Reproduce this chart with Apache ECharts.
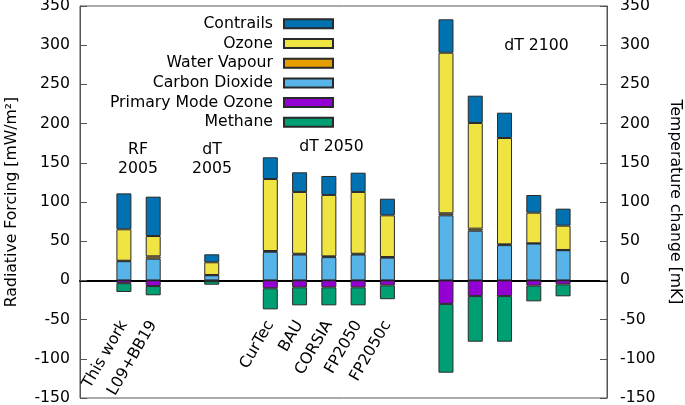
<!DOCTYPE html>
<html>
<head>
<meta charset="utf-8">
<script src="https://cdn.jsdelivr.net/npm/echarts@6/dist/echarts.min.js"></script>
<style>
html,body{margin:0;padding:0;background:#fff;}
#c{width:685px;height:405px;}
</style>
</head>
<body>
<div id="c"></div>
<script>
// Category slots (gaps are empty slots)
const categories = ['pad0','This work','L09+BB19','pad1','dT2005','pad2','CurTec','BAU','CORSIA','FP2050','FP2050c','pad3','dT2100a','dT2100b','dT2100c','dT2100d','dT2100e','pad4'];
const tickLabels = ['','This work','L09+BB19','','','','CurTec','BAU','CORSIA','FP2050','FP2050c','','','','','','',''];
const yTicks = { min: -150, max: 350, interval: 50 };

// Component values [mW/m2 or mK]
const carbonDioxide = [null, 24.5, 27.7, null, 6.5, null, 36.5, 33, 29.7, 33, 29, null, 83, 63.4, 45, 47, 38.5, null];
const waterVapour   = [null, 0.6, 3, null, 0.4, null, 1, 1, 1, 1, 0.8, null, 2.6, 2.6, 1, 0.3, 0.3, null];
const ozone         = [null, 40.1, 25.9, null, 16.2, null, 91.8, 78.8, 78.3, 78.8, 53.2, null, 204.8, 134.8, 135.6, 39.1, 31, null];
const contrails     = [null, 45.8, 50.2, null, 10.2, null, 27.7, 25.1, 24.2, 24.6, 21.2, null, 42.6, 34.8, 32.3, 22.5, 21.7, null];
const primaryModeOzone = [null, -3.5, -7.2, null, -1, null, -10, -8.8, -8.8, -8.8, -6.3, null, -30, -20, -20, -6.7, -5, null];
const methane       = [null, -11.3, -11.8, null, -4.5, null, -26.9, -23, -23, -23, -17.7, null, -87.7, -58.2, -58.2, -20, -15.3, null];

const FONT = 'DejaVu Sans';
const FS = 15.7;

const chart = echarts.init(document.getElementById('c'), null, {renderer: 'canvas'});

function bar(name, data, color) {
  return {
    name: name, type: 'bar', stack: 'total', data: data, barWidth: 15,
    itemStyle: { color: color, borderColor: '#2a2a2a', borderWidth: 1 },
    emphasis: { disabled: true }, animation: false
  };
}

function yAxis(pos, name, rot) {
  return {
    type: 'value', position: pos, min: yTicks.min, max: yTicks.max, interval: yTicks.interval,
    name: name, nameLocation: 'middle', nameGap: 60, nameRotate: rot,
    nameTextStyle: { fontFamily: FONT, fontSize: FS, color: '#000' },
    axisLine: { show: true, lineStyle: { color: '#555', width: 1 } },
    axisTick: { show: true, inside: true, length: 7, lineStyle: { color: '#555' } },
    axisLabel: { fontFamily: FONT, fontSize: FS, color: '#000', margin: pos === 'left' ? 10 : 13 },
    splitLine: { show: false }
  };
}

const txtFont = FS + 'px "' + FONT + '"';

chart.setOption({
  animation: false,
  grid: { left: 80, right: 78, top: 6, bottom: 7, show: true, borderColor: '#555', borderWidth: 1, containLabel: false, outerBoundsMode: 'none' },
  legend: {
    orient: 'vertical', align: 'right', right: 351, top: 15.8, padding: 0,
    itemWidth: 49, itemHeight: 9, itemGap: 3.7,
    data: ['Contrails','Ozone','Water Vapour','Carbon Dioxide','Primary Mode Ozone','Methane'],
    textStyle: { fontFamily: FONT, fontSize: FS, color: '#000', lineHeight: 15, padding: [0, 6, 0, 0] },
    icon: 'rect', selectedMode: false
  },
  xAxis: {
    type: 'category', data: categories, boundaryGap: true,
    axisLine: { show: true, onZero: true, lineStyle: { color: '#000', width: 2 } },
    axisTick: { show: false },
    axisLabel: {
      interval: 0, rotate: 60, margin: -76,
      fontFamily: FONT, fontSize: FS, color: '#000',
      formatter: function (v, i) { return tickLabels[i]; }
    },
    splitLine: { show: false }
  },
  yAxis: [ yAxis('left', 'Radiative Forcing [mW/m²]', 90), yAxis('right', 'Temperature change [mK]', -90) ],
  series: [
    bar('Carbon Dioxide', carbonDioxide, '#56B4E9'),
    bar('Water Vapour', waterVapour, '#E69F00'),
    bar('Ozone', ozone, '#F0E442'),
    bar('Contrails', contrails, '#0072B2'),
    bar('Primary Mode Ozone', primaryModeOzone, '#9400D3'),
    bar('Methane', methane, '#009E73')
  ],
  graphic: [
    { type: 'text', x: 138, y: 159.5, style: { text: 'RF\n2005', font: txtFont, fill: '#000', align: 'center', verticalAlign: 'middle', lineHeight: 19.5 } },
    { type: 'text', x: 212, y: 159.5, style: { text: 'dT\n2005', font: txtFont, fill: '#000', align: 'center', verticalAlign: 'middle', lineHeight: 19.5 } },
    { type: 'text', x: 331.5, y: 147.3, style: { text: 'dT 2050', font: txtFont, fill: '#000', align: 'center', verticalAlign: 'middle' } },
    { type: 'text', x: 536.5, y: 46, style: { text: 'dT 2100', font: txtFont, fill: '#000', align: 'center', verticalAlign: 'middle' } }
  ]
});
</script>
</body>
</html>
